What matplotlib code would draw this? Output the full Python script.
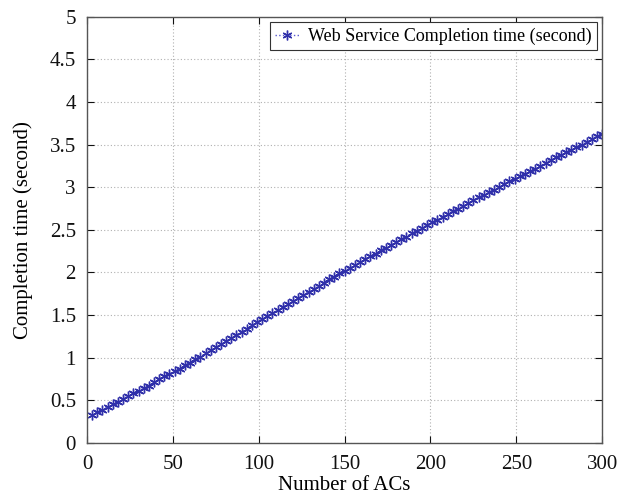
import numpy as np
import matplotlib.pyplot as plt

# Number of ACs vs completion time
num_acs = list(range(3, 301, 3))
completion_time = [
    0.33, 0.36, 0.39, 0.42, 0.45, 0.48, 0.52, 0.55, 0.58, 0.61, 0.64, 0.67, 0.71, 0.75, 0.78, 0.81,
    0.84, 0.87, 0.91, 0.94, 0.98, 1.01, 1.05, 1.09, 1.12, 1.16, 1.19, 1.23, 1.27, 1.30, 1.34, 1.38, 1.42,
    1.45, 1.49, 1.52, 1.56, 1.59, 1.63, 1.66, 1.70, 1.74, 1.77, 1.81, 1.84, 1.88, 1.92, 1.95, 1.99, 2.02,
    2.05, 2.09, 2.12, 2.16, 2.19, 2.22, 2.26, 2.29, 2.32, 2.36, 2.39, 2.42, 2.46, 2.49, 2.52, 2.56,
    2.59, 2.62, 2.65, 2.69, 2.72, 2.75, 2.78, 2.81, 2.85, 2.88, 2.91, 2.94, 2.97, 3.00, 3.04, 3.07, 3.10,
    3.13, 3.16, 3.19, 3.22, 3.25, 3.29, 3.32, 3.35, 3.38, 3.41, 3.44, 3.47, 3.50, 3.53, 3.57, 3.60, 3.63,
]
x_ticks = [0, 50, 100, 150, 200, 250, 300]
y_ticks = [0, 0.5, 1, 1.5, 2, 2.5, 3, 3.5, 4, 4.5, 5]
y_tick_labels = ['0', '0.5', '1', '1.5', '2', '2.5', '3', '3.5', '4', '4.5', '5']

plt.rcParams['font.family'] = ['Liberation Serif', 'DejaVu Serif']

fig = plt.figure(figsize=(6.26, 4.97), dpi=100)
ax = fig.add_axes([0.139, 0.109, 0.823, 0.857])

# asterisk markers joined by a dotted line
ax.plot(num_acs, completion_time, linestyle=':', color='#5a5ad0', linewidth=1.0,
        marker=(6, 2, 0), markersize=7, markerfacecolor='#1c1c8a', markeredgecolor='#3030aa',
        markeredgewidth=1.0, label='Web Service Completion time (second)')

ax.set_xlim(0, 300)
ax.set_ylim(0, 5)
ax.set_xticks(x_ticks)
ax.set_yticks(y_ticks)
ax.set_yticklabels(y_tick_labels)
ax.tick_params(direction='in', top=True, right=True, length=5, width=0.8,
               labelsize=15, colors='#111111')
ax.tick_params(axis='x', pad=9)
ax.tick_params(axis='y', pad=8)
ax.grid(True, linestyle=(0, (1, 2)), color='#b0b0b0', linewidth=0.8)
for s in ax.spines.values():
    s.set_color('#555555')
    s.set_linewidth(1.0)

ax.set_xlabel('Number of ACs', fontsize=15, labelpad=1)
ax.set_ylabel('Completion time (second)', fontsize=15, labelpad=12)

leg = ax.legend(loc='upper right', fontsize=13, fancybox=False, framealpha=1,
                edgecolor='#333333', handlelength=1.3, handletextpad=0.5,
                borderpad=0.3, borderaxespad=0.3)
leg.get_frame().set_linewidth(0.8)

fig.savefig('out.png', dpi=100)
